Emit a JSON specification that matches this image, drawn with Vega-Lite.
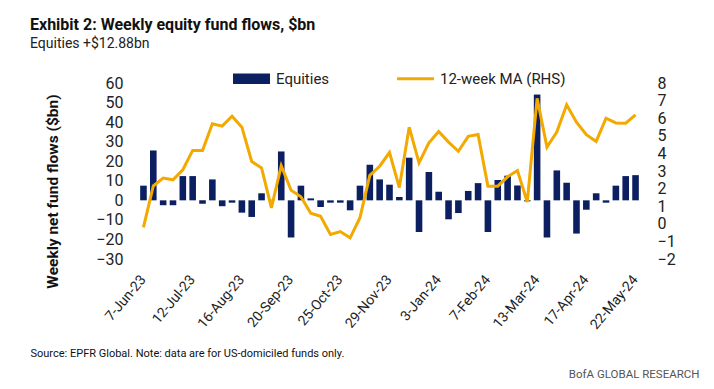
{
  "$schema": "https://vega.github.io/schema/vega-lite/v6.json",
  "width": 503,
  "height": 176,
  "autosize": "none",
  "padding": {"left": 138, "top": 83, "right": 73, "bottom": 130},
  "background": "white",
  "config": {
    "view": {"stroke": null},
    "font": "Roboto",
    "title": {"font": "Roboto", "subtitleFont": "Roboto"},
    "axis": {"labelOverlap": false},
    "axisY": {"labelOverlap": false}
  },
  "title": {
    "text": "Exhibit 2: Weekly equity fund flows, $bn",
    "subtitle": "Equities +$12.88bn",
    "anchor": "start",
    "frame": "group",
    "dx": -108,
    "fontSize": 16,
    "fontWeight": "bold",
    "color": "#111",
    "subtitleFontSize": 14,
    "subtitleColor": "#222",
    "subtitlePadding": 4,
    "offset": 20
  },
  "data": {
    "values": [
      {"week": "7-Jun-23", "flow": 7.5, "ma": -0.2},
      {"week": "14-Jun-23", "flow": 25.5, "ma": 2.15},
      {"week": "21-Jun-23", "flow": -2.5, "ma": 2.6},
      {"week": "28-Jun-23", "flow": -2.5, "ma": 2.5},
      {"week": "5-Jul-23", "flow": 12.4, "ma": 3.07},
      {"week": "12-Jul-23", "flow": 12.4, "ma": 4.17},
      {"week": "19-Jul-23", "flow": -1.7, "ma": 4.17},
      {"week": "26-Jul-23", "flow": 10.7, "ma": 5.68},
      {"week": "2-Aug-23", "flow": -3.0, "ma": 5.55},
      {"week": "9-Aug-23", "flow": -1.2, "ma": 6.11},
      {"week": "16-Aug-23", "flow": -6.3, "ma": 5.49},
      {"week": "23-Aug-23", "flow": -8.5, "ma": 3.54},
      {"week": "30-Aug-23", "flow": 3.6, "ma": 3.17},
      {"week": "6-Sep-23", "flow": 0.3, "ma": 0.9},
      {"week": "13-Sep-23", "flow": 25.0, "ma": 3.3},
      {"week": "20-Sep-23", "flow": -19.0, "ma": 1.9},
      {"week": "27-Sep-23", "flow": 7.5, "ma": 1.54},
      {"week": "4-Oct-23", "flow": 1.0, "ma": 0.6},
      {"week": "11-Oct-23", "flow": -3.4, "ma": 0.43},
      {"week": "18-Oct-23", "flow": -1.2, "ma": -0.6},
      {"week": "25-Oct-23", "flow": -1.2, "ma": -0.44},
      {"week": "1-Nov-23", "flow": -5.1, "ma": -0.8},
      {"week": "8-Nov-23", "flow": 7.5, "ma": 0.35},
      {"week": "15-Nov-23", "flow": 18.2, "ma": 2.75},
      {"week": "22-Nov-23", "flow": 10.7, "ma": 3.27},
      {"week": "29-Nov-23", "flow": 8.0, "ma": 4.05},
      {"week": "6-Dec-23", "flow": 1.7, "ma": 2.06},
      {"week": "13-Dec-23", "flow": 21.8, "ma": 5.49},
      {"week": "20-Dec-23", "flow": -16.2, "ma": 3.46},
      {"week": "27-Dec-23", "flow": 14.5, "ma": 4.6},
      {"week": "3-Jan-24", "flow": 4.4, "ma": 5.25},
      {"week": "10-Jan-24", "flow": -9.7, "ma": 4.64},
      {"week": "17-Jan-24", "flow": -6.5, "ma": 4.12},
      {"week": "24-Jan-24", "flow": 4.8, "ma": 4.97},
      {"week": "31-Jan-24", "flow": 8.8, "ma": 5.07},
      {"week": "7-Feb-24", "flow": -16.2, "ma": 2.14},
      {"week": "14-Feb-24", "flow": 10.4, "ma": 2.14},
      {"week": "21-Feb-24", "flow": 12.6, "ma": 2.67},
      {"week": "28-Feb-24", "flow": 7.6, "ma": 3.03},
      {"week": "6-Mar-24", "flow": -0.5, "ma": 1.24},
      {"week": "13-Mar-24", "flow": 54.1, "ma": 7.13},
      {"week": "20-Mar-24", "flow": -19.0, "ma": 4.36},
      {"week": "27-Mar-24", "flow": 15.3, "ma": 5.21},
      {"week": "3-Apr-24", "flow": 9.0, "ma": 6.76},
      {"week": "10-Apr-24", "flow": -17.0, "ma": 5.77},
      {"week": "17-Apr-24", "flow": -4.8, "ma": 5.06},
      {"week": "24-Apr-24", "flow": 3.6, "ma": 4.68},
      {"week": "1-May-24", "flow": -1.2, "ma": 6.0},
      {"week": "8-May-24", "flow": 7.5, "ma": 5.73},
      {"week": "15-May-24", "flow": 12.4, "ma": 5.72},
      {"week": "22-May-24", "flow": 12.88, "ma": 6.19}
    ]
  },
  "encoding": {
    "x": {
      "field": "week",
      "type": "ordinal",
      "sort": null,
      "scale": {"paddingInner": 0.33, "paddingOuter": 0.22},
      "axis": {
        "values": ["7-Jun-23", "12-Jul-23", "16-Aug-23", "20-Sep-23", "25-Oct-23", "29-Nov-23", "3-Jan-24", "7-Feb-24", "13-Mar-24", "17-Apr-24", "22-May-24"],
        "labelAngle": -50,
        "labelFontSize": 14,
        "labelColor": "#222",
        "labelPadding": 18,
        "labelOverlap": false,
        "ticks": false,
        "domain": false,
        "title": "Source: EPFR Global. Note: data are for US-domiciled funds only.",
        "titleFontSize": 11,
        "titleFontWeight": "normal",
        "titleColor": "#111",
        "titleX": -108,
        "titleY": 97,
        "titleAlign": "left",
        "titleAnchor": "start",
        "titleBaseline": "alphabetic"
      }
    }
  },
  "layer": [
    {
      "layer": [
        {
          "mark": {"type": "bar"},
          "encoding": {
            "y": {
              "field": "flow",
              "type": "quantitative",
              "scale": {"domain": [-30, 60], "nice": false, "zero": false},
              "axis": {
                "orient": "left",
                "values": [-30, -20, -10, 0, 10, 20, 30, 40, 50, 60],
                "labelOverlap": false,
                "grid": false,
                "domain": false,
                "ticks": false,
                "labelFontSize": 16,
                "labelColor": "#222",
                "labelPadding": 15,
                "title": "Weekly net fund flows ($bn)",
                "titleFontSize": 15.5,
                "titleFontWeight": "bold",
                "titleColor": "#111",
                "titleAngle": -90,
                "titleX": -86,
                "titleY": 108,
                "titleAlign": "center",
                "titleBaseline": "middle"
              }
            },
            "color": {
              "datum": "Equities",
              "scale": {"domain": ["Equities", "12-week MA (RHS)"], "range": ["#0c2061", "#f2a900"]},
              "legend": {
                "orient": "none",
                "legendX": 106,
                "legendY": -12,
                "direction": "horizontal",
                "title": null,
                "labelFontSize": 15,
                "labelColor": "#222",
                "symbolSize": 1369,
                "columnPadding": 61,
                "labelOffset": 17,
                "encode": {
                  "symbols": {
                    "update": {
                      "shape": {"signal": "datum.value === 'Equities' ? 'M-1,-0.28H1V0.28H-1Z' : 'M-1,0H1'"},
                      "fill": {"signal": "datum.value === 'Equities' ? '#0c2061' : 'transparent'"},
                      "stroke": {"signal": "datum.value === 'Equities' ? 'transparent' : '#f2a900'"},
                      "strokeWidth": {"signal": "datum.value === 'Equities' ? 0 : 3"}
                    }
                  }
                }
              }
            }
          }
        },
        {
          "mark": {"type": "rule", "color": "#111", "strokeWidth": 1.5},
          "encoding": {"y": {"datum": 0, "type": "quantitative", "axis": {"orient": "left", "values": [-30, -20, -10, 0, 10, 20, 30, 40, 50, 60], "labelOverlap": false}}}
        }
      ]
    },
    {
      "mark": {"type": "line", "strokeWidth": 3, "strokeJoin": "miter"},
      "encoding": {
        "y": {
          "field": "ma",
          "type": "quantitative",
          "scale": {"domain": [-2, 8], "nice": false, "zero": false},
          "axis": {
            "orient": "right",
            "values": [-2, -1, 0, 1, 2, 3, 4, 5, 6, 7, 8],
            "labelOverlap": false,
            "grid": false,
            "domain": false,
            "ticks": false,
            "labelFontSize": 16,
            "labelColor": "#222",
            "labelPadding": 16,
            "title": "BofA GLOBAL RESEARCH",
            "titleFontSize": 11.5,
            "titleFontWeight": "normal",
            "titleColor": "#555",
            "titleAngle": 0,
            "titleX": 58,
            "titleY": 294,
            "titleAlign": "right",
            "titleBaseline": "alphabetic"
          }
        },
        "color": {"datum": "12-week MA (RHS)"}
      }
    }
  ],
  "resolve": {"scale": {"y": "independent"}}
}
